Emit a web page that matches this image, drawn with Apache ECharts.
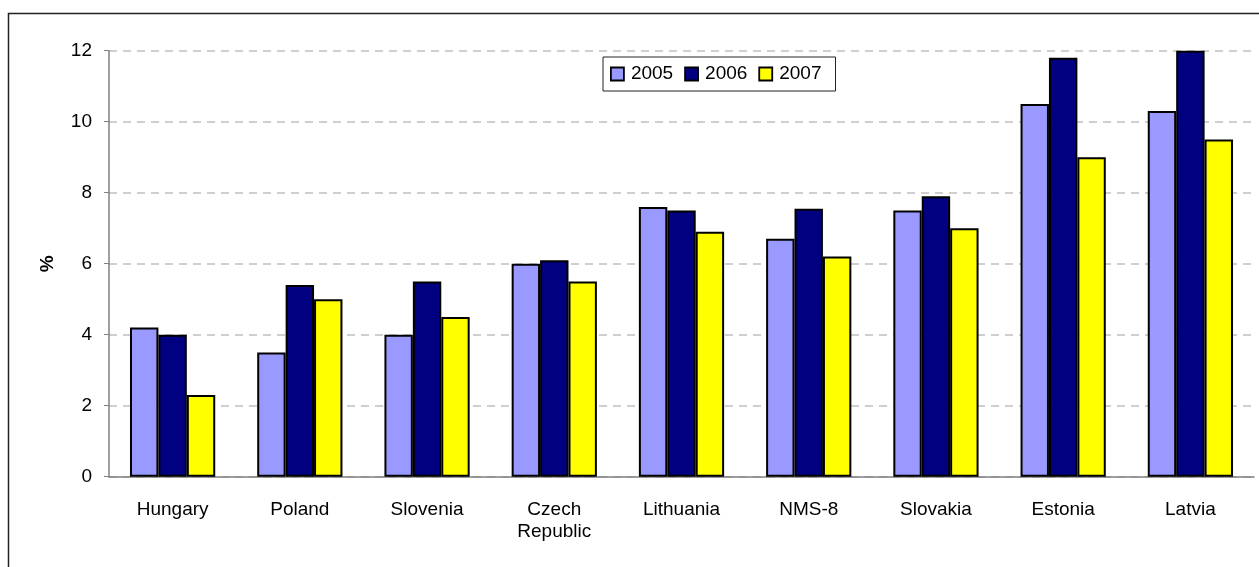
<!DOCTYPE html>
<html>
<head>
<meta charset="utf-8">
<script src="https://cdn.jsdelivr.net/npm/echarts@6/dist/echarts.min.js"></script>
<style>
html,body{margin:0;padding:0;background:#fff;}
#chart{width:1259px;height:567px;}
</style>
</head>
<body>
<div id="chart"></div>
<script>
const categories = ["Hungary","Poland","Slovenia","Czech\nRepublic","Lithuania","NMS-8","Slovakia","Estonia","Latvia"];
const seriesNames = ["2005","2006","2007"];
const values2005 = [4.2, 3.5, 4.0, 6.0, 7.6, 6.7, 7.5, 10.5, 10.3];
const values2006 = [4.0, 5.4, 5.5, 6.1, 7.5, 7.55, 7.9, 11.8, 12.0];
const values2007 = [2.3, 5.0, 4.5, 5.5, 6.9, 6.2, 7.0, 9.0, 9.5];
const yTicks = [0, 2, 4, 6, 8, 10, 12];

const colors = ["#9999FF", "#000080", "#FFFF00"];
const allValues = [values2005, values2006, values2007];
const font = "Liberation Sans, Arial, sans-serif";

const chart = echarts.init(document.getElementById('chart'), null, {renderer: 'canvas'});
chart.setOption({
  animation: false,
  backgroundColor: '#fff',
  graphic: [{
    type: 'rect',
    shape: {x: 8.5, y: 13.5, width: 1400, height: 700},
    style: {fill: 'none', stroke: '#222', lineWidth: 1.5},
    silent: true,
    z: 100
  }],
  legend: {
    data: seriesNames,
    left: 603,
    top: 57,
    orient: 'horizontal',
    padding: [7, 14, 7, 7],
    itemGap: 11,
    itemWidth: 13,
    itemHeight: 13,
    icon: 'rect',
    borderColor: '#222',
    borderWidth: 1,
    backgroundColor: '#fff',
    itemStyle: {borderColor: '#000', borderWidth: 1.8},
    textStyle: {fontFamily: font, fontSize: 19, lineHeight: 20, color: '#000', padding: [0, 0, 0, 2]}
  },
  grid: {left: 109, right: 5, top: 50.7, bottom: 90.3, containLabel: false},
  xAxis: {
    type: 'category',
    data: categories,
    axisLine: {lineStyle: {color: '#808080', width: 1.5}},
    axisTick: {show: false},
    axisLabel: {fontFamily: font, fontSize: 19, color: '#000', margin: 22, lineHeight: 22, interval: 0}
  },
  yAxis: {
    type: 'value',
    min: yTicks[0],
    max: yTicks[yTicks.length - 1],
    interval: 2,
    name: '%',
    nameLocation: 'middle',
    nameGap: 52,
    nameRotate: 90,
    nameTextStyle: {fontFamily: font, fontSize: 19, fontWeight: 'bold', color: '#000'},
    axisLine: {show: true, lineStyle: {color: '#808080', width: 1.5}},
    axisTick: {show: true, length: 5, lineStyle: {color: '#808080', width: 1}},
    axisLabel: {fontFamily: font, fontSize: 19, color: '#000', margin: 17},
    splitLine: {show: true, lineStyle: {color: '#c0c0c0', type: [8, 6], width: 1.5}}
  },
  series: seriesNames.map((name, i) => ({
    name: name,
    type: 'bar',
    data: allValues[i],
    barGap: '0%',
    barCategoryGap: '33%',
    itemStyle: {color: colors[i], borderColor: '#000', borderWidth: 2}
  }))
});
</script>
</body>
</html>
